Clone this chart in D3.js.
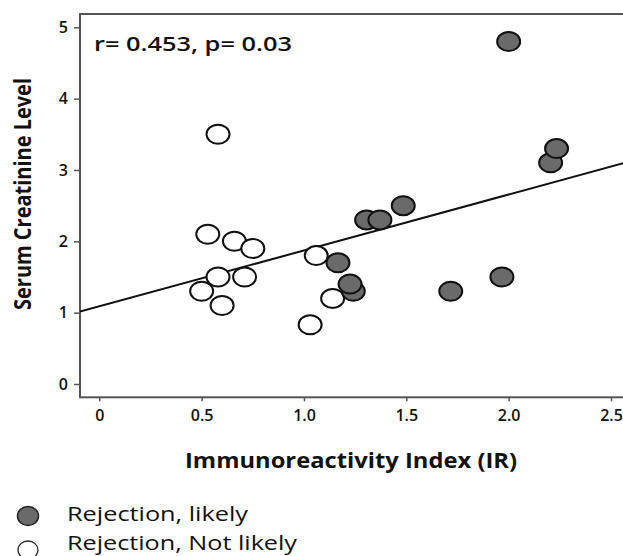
<!DOCTYPE html>
<html>
<head>
<meta charset="utf-8">
<script src="https://cdn.jsdelivr.net/npm/d3@7"></script>
<style>
  body { margin: 0; background: #fff; }
  text { font-family: "Open Sans", sans-serif; fill: #111; }
</style>
</head>
<body>
<svg id="mainsvg" width="623" height="556"></svg>
<script>
// Rejection, Not likely (open)
const notLikelyIR = [0.58, 0.53, 0.66, 0.75, 0.50, 0.60, 0.58, 0.71, 1.06, 1.14, 1.03];
const notLikelySCr = [3.5, 2.1, 2.0, 1.9, 1.3, 1.1, 1.5, 1.5, 1.8, 1.2, 0.83];
// Rejection, likely (filled)
const likelyIR = [2.0, 2.205, 2.234, 1.485, 1.306, 1.371, 1.166, 1.241, 1.225, 1.717, 1.967];
const likelySCr = [4.8, 3.1, 3.3, 2.5, 2.3, 2.3, 1.7, 1.3, 1.4, 1.3, 1.5];

const xTicks = [0, 0.5, 1.0, 1.5, 2.0, 2.5];
const xTickLabels = ['0', '0.5', '1.0', '1.5', '2.0', '2.5'];
const yTicks = [0, 1, 2, 3, 4, 5];

// fitted line
const intercept = 1.088;
const slope = 0.784;
const statsLabel = 'r= 0.453, p= 0.03';
const legendLabels = ['Rejection, likely', 'Rejection, Not likely'];

const svg = d3.select('#mainsvg');
const frame = { left: 80, top: 14, right: 640, bottom: 397.3 };

const xScale = d3.scaleLinear().domain([0, 2.5]).range([99.3, 611]);
const yScale = d3.scaleLinear().domain([0, 5]).range([384, 27.3]);

const grey = '#6a6a6a';

// frame (right side runs off the picture)
svg.append('rect')
  .attr('x', frame.left).attr('y', frame.top)
  .attr('width', frame.right - frame.left).attr('height', frame.bottom - frame.top)
  .attr('fill', 'none').attr('stroke', '#555').attr('stroke-width', 2);

// y axis
const yAxis = d3.axisLeft(yScale).tickValues(yTicks).tickFormat(d3.format('d'))
  .tickSize(6).tickPadding(6);
const gy = svg.append('g').attr('transform', `translate(${frame.left},0)`).call(yAxis);
gy.select('.domain').remove();
gy.selectAll('line').attr('stroke', '#555').attr('stroke-width', 1.5);
gy.selectAll('text').attr('font-size', 16).attr('font-weight', 600)
  .attr('font-family', '"Open Sans", sans-serif').attr('fill', '#111');

// x axis
const xAxis = d3.axisBottom(xScale).tickValues(xTicks).tickFormat((d, i) => xTickLabels[i])
  .tickSize(4).tickPadding(8);
const gx = svg.append('g').attr('transform', `translate(0,${frame.bottom})`).call(xAxis);
gx.select('.domain').remove();
gx.selectAll('line').attr('stroke', '#555').attr('stroke-width', 1.5);
gx.selectAll('text').attr('font-size', 16).attr('font-weight', 600)
  .attr('font-family', '"Open Sans", sans-serif').attr('fill', '#111');

// axis titles
svg.append('text').text('Immunoreactivity Index (IR)')
  .attr('x', 351).attr('y', 468).attr('text-anchor', 'middle')
  .attr('font-size', 21).attr('font-weight', 700)
  .attr('textLength', 332).attr('lengthAdjust', 'spacingAndGlyphs');

svg.append('text').text('Serum Creatinine Level')
  .attr('transform', 'translate(31,194) rotate(-90)').attr('text-anchor', 'middle')
  .attr('font-size', 23).attr('font-weight', 700)
  .attr('textLength', 232).attr('lengthAdjust', 'spacingAndGlyphs');

// stats
svg.append('text').text(statsLabel)
  .attr('x', 94).attr('y', 51).attr('font-size', 19).attr('font-weight', 600)
  .attr('textLength', 198).attr('lengthAdjust', 'spacingAndGlyphs');

// clip for plot area
svg.append('clipPath').attr('id', 'plotclip').append('rect')
  .attr('x', frame.left).attr('y', frame.top)
  .attr('width', frame.right - frame.left).attr('height', frame.bottom - frame.top);

const plot = svg.append('g').attr('clip-path', 'url(#plotclip)');

// regression line
const x0 = xScale.invert(frame.left), x1 = xScale.invert(frame.right);
plot.append('line')
  .attr('x1', xScale(x0)).attr('y1', yScale(intercept + slope * x0))
  .attr('x2', xScale(x1)).attr('y2', yScale(intercept + slope * x1))
  .attr('stroke', '#111').attr('stroke-width', 2);

const notLikely = notLikelyIR.map((d, i) => ({ x: d, y: notLikelySCr[i] }));
const likely = likelyIR.map((d, i) => ({ x: d, y: likelySCr[i] }));

plot.selectAll('ellipse.open').data(notLikely).enter().append('ellipse')
  .attr('class', 'open')
  .attr('cx', d => xScale(d.x)).attr('cy', d => yScale(d.y))
  .attr('rx', 11.5).attr('ry', 9.5)
  .attr('fill', '#fff').attr('stroke', '#111').attr('stroke-width', 2);

plot.selectAll('ellipse.fill').data(likely).enter().append('ellipse')
  .attr('class', 'fill')
  .attr('cx', d => xScale(d.x)).attr('cy', d => yScale(d.y))
  .attr('rx', 11.5).attr('ry', 9.5)
  .attr('fill', grey).attr('stroke', '#111').attr('stroke-width', 2);

// legend
const legend = svg.append('g');
const legendY = [516, 548];
legend.selectAll('ellipse').data(legendLabels).enter().append('ellipse')
  .attr('cx', 28).attr('cy', (d, i) => legendY[i] + (i === 0 ? 0 : 2))
  .attr('rx', (d, i) => i === 0 ? 10.5 : 10).attr('ry', (d, i) => i === 0 ? 9.5 : 9)
  .attr('fill', (d, i) => i === 0 ? grey : '#fff')
  .attr('stroke', '#222').attr('stroke-width', (d, i) => i === 0 ? 1.5 : 1.3);
legend.selectAll('text').data(legendLabels).enter().append('text')
  .text(d => d)
  .attr('x', 67).attr('y', (d, i) => legendY[i] + (i === 0 ? 5 : 2))
  .attr('font-size', 20)
  .attr('textLength', (d, i) => i === 0 ? 181 : 230).attr('lengthAdjust', 'spacingAndGlyphs');
</script>
</body>
</html>
